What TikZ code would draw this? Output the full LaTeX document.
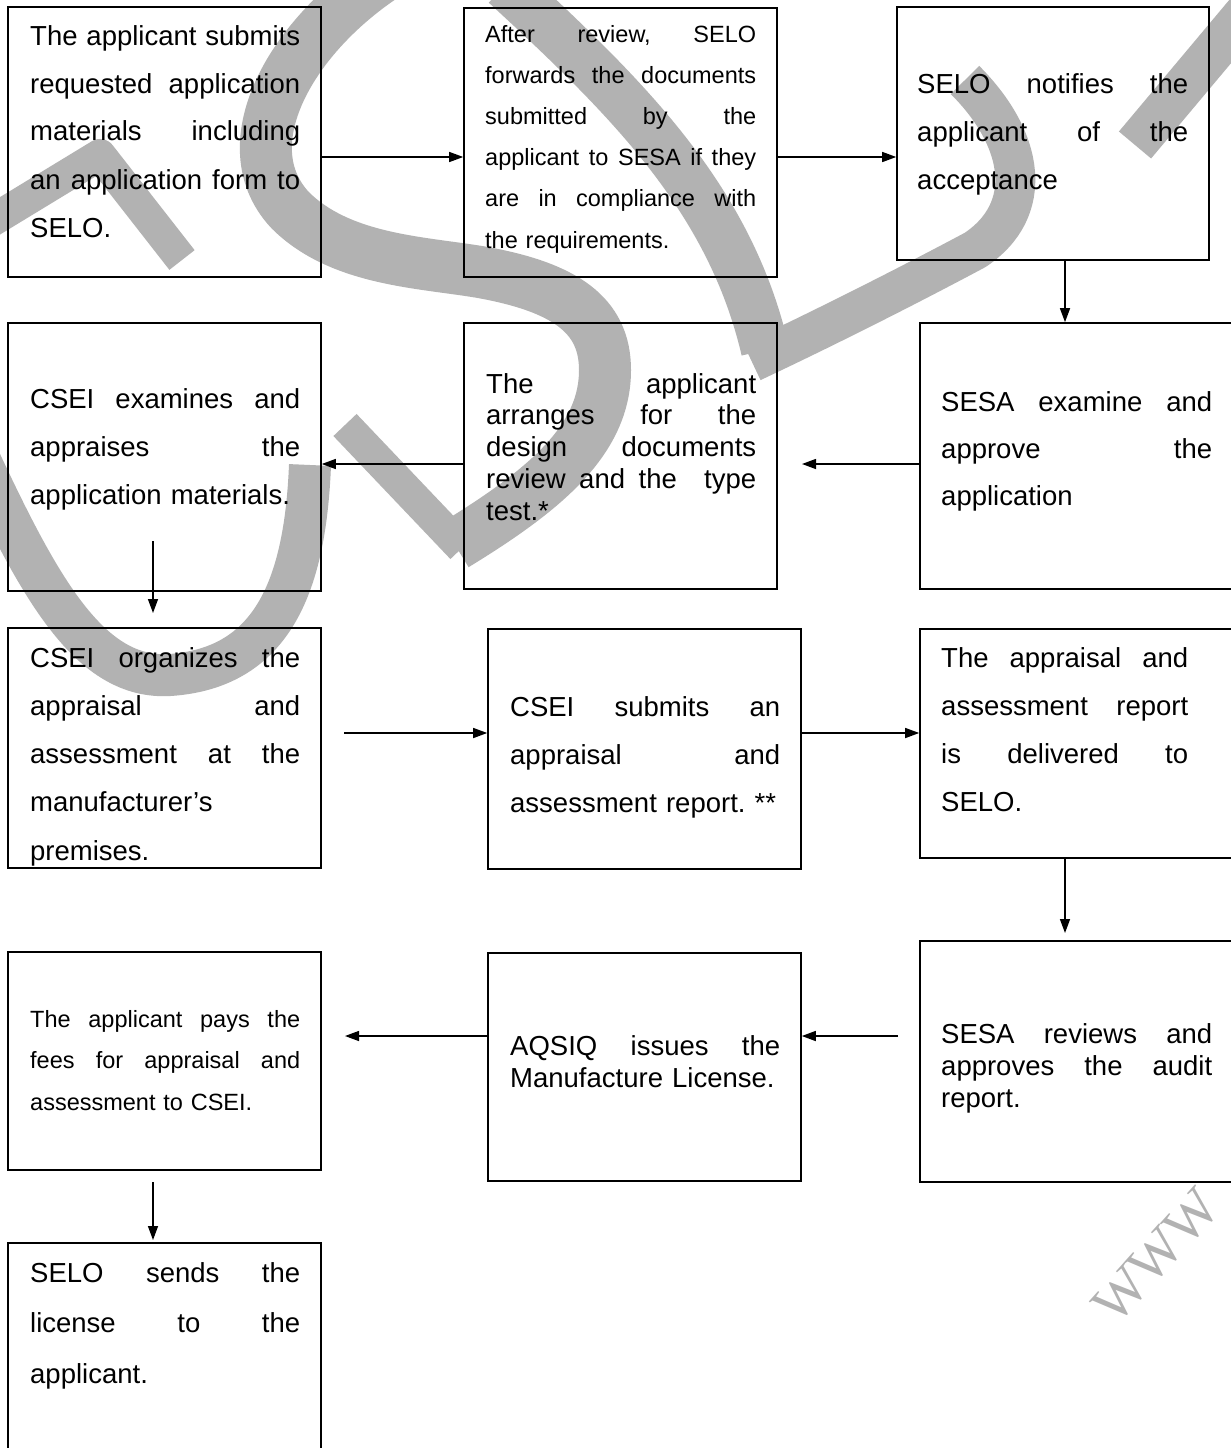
\documentclass[tikz,border=0pt]{standalone}
\usepackage{fontspec}
\setmainfont{Liberation Sans}
\newfontfamily\wwwfont{Liberation Serif}
\usetikzlibrary{arrows.meta,fit}
\definecolor{wmgray}{RGB}{178,178,178}
\def\jw{270pt}
\tikzset{
  box/.style={draw=black, line width=1.6pt, inner sep=0pt},
  txt/.style={anchor=base west, inner sep=0pt, align=left, text width=320pt},
  jwidth/.style={execute at begin node={\def\jw{#1}}},
  arr/.style={line width=1.4pt, -{Triangle[length=14pt,width=10pt]}},
  wm/.style={draw=wmgray, line cap=butt, line join=round},
}
\newcommand{\J}[1]{\leavevmode\hbox to \jw{\frenchspacing\spaceskip=\fontdimen2\font plus 1fil\relax #1}}
\begin{document}
\frenchspacing
\begin{tikzpicture}[x=1pt,y=-1pt]
\useasboundingbox (0,0) rectangle (1231,1448);
\fill[white] (0,0) rectangle (1231,1448);
% watermark
\draw[wm, line width=52pt] (410,-40) .. controls (300,20) and (225,140) .. (290,210)
  .. controls (340,260) and (420,262) .. (480,272)
  .. controls (565,287) and (605,315) .. (605,370)
  .. controls (605,440) and (545,490) .. (455,545);
\draw[wm, line width=32pt] (345,425) -- (462,548);
\draw[wm, line width=32pt] (-20,228) -- (100,155) -- (182,260);
\draw[wm, line width=42pt] (-25,450) .. controls (40,590) and (90,680) .. (170,675)
  .. controls (270,668) and (305,590) .. (310,465);
\draw[wm, line width=42pt] (1265,-10) -- (1135,145);
\draw[wm, line width=40pt] (965,80) .. controls (1025,140) and (1035,210) .. (975,250)
  .. controls (900,290) and (820,330) .. (752,362);
\draw[wm, line width=48pt] (505,-15) .. controls (630,100) and (730,200) .. (765,350);
\node[font=\wwwfont\fontsize{56}{56}\selectfont, text=wmgray, rotate=48, inner sep=0pt] (www) at (1156,1256) {WWW};
% boxes
\node[box, fit={(8,7) (321,277)}] (b1) {};
\node[box, fit={(464,8) (777,277)}] (b2) {};
\node[box, fit={(897,7) (1209,260)}] (b3) {};
\node[box, fit={(8,323) (321,591)}] (b4) {};
\node[box, fit={(464,323) (777,589)}] (b5) {};
\node[box, fit={(920,323) (1236,589)}] (b6) {};
\node[box, fit={(8,628) (321,868)}] (b7) {};
\node[box, fit={(488,629) (801,869)}] (b8) {};
\node[box, fit={(920,629) (1236,858)}] (b9) {};
\node[box, fit={(8,952) (321,1170)}] (b10) {};
\node[box, fit={(488,953) (801,1181)}] (b11) {};
\node[box, fit={(920,941) (1236,1182)}] (b12) {};
\node[box, fit={(8,1243) (321,1453)}] (b13) {};
% texts
\node[txt, font=\fontsize{27.5}{48}\selectfont] (t1) at (30,45)
 {\J{The applicant submits}\\ \J{requested application}\\ \J{materials including}\\ \J{an application form to}\\ SELO.};
\node[txt, jwidth=271pt, font=\fontsize{23.5}{41.2}\selectfont] (t2) at (485,42)
 {\J{After review, SELO}\\ \J{forwards the documents}\\ \J{submitted by the}\\ \J{applicant to SESA if they}\\ \J{are in compliance with}\\ the requirements.};
\node[txt, jwidth=271pt, font=\fontsize{27.5}{48}\selectfont] (t3) at (917,93)
 {\J{SELO notifies the}\\ \J{applicant of the}\\ acceptance};
\node[txt, font=\fontsize{27.5}{48}\selectfont] (t4) at (30,408)
 {\J{CSEI examines and}\\ \J{appraises the}\\ application materials.};
\node[txt, font=\fontsize{27.5}{31.75}\selectfont] (t5) at (486,393)
 {\J{The applicant}\\ \J{arranges for the}\\ \J{design documents}\\ \J{review and the\ \ type}\\ test.*};
\node[txt, jwidth=271pt, font=\fontsize{27.5}{47}\selectfont] (t6) at (941,411)
 {\J{SESA examine and}\\ \J{approve the}\\ application};
\begin{scope}
\clip (8,628) rectangle (321,868);
\node[txt, font=\fontsize{27.5}{48.25}\selectfont] (t7) at (30,667)
 {\J{CSEI organizes the}\\ \J{appraisal and}\\ \J{assessment at the}\\ manufacturer’s\\ premises.};
\end{scope}
\node[txt, font=\fontsize{27.5}{48}\selectfont] (t8) at (510,716)
 {\J{CSEI submits an}\\ \J{appraisal and}\\ assessment report. **};
\node[txt, jwidth=247pt, font=\fontsize{27.5}{48.3}\selectfont] (t9) at (941,667)
 {\J{The appraisal and}\\ \J{assessment report}\\ \J{is delivered to}\\ SELO.};
\node[txt, font=\fontsize{23.5}{41.5}\selectfont] (t10) at (30,1027)
 {\J{The applicant pays the}\\ \J{fees for appraisal and}\\ assessment to CSEI.};
\node[txt, font=\fontsize{27.5}{32}\selectfont] (t11) at (510,1055)
 {\J{AQSIQ issues the}\\ Manufacture License.};
\node[txt, jwidth=271pt, font=\fontsize{27.5}{32}\selectfont] (t12) at (941,1043)
 {\J{SESA reviews and}\\ \J{approves the audit}\\ report.};
\node[txt, font=\fontsize{27.5}{50.5}\selectfont] (t13) at (30,1282)
 {\J{SELO sends the}\\ \J{license to the}\\ applicant.};
% connector coordinates
\coordinate (r1) at (0,157);
\coordinate (r2) at (0,464);
\coordinate (r3) at (0,733);
\coordinate (r4) at (0,1036);
\coordinate (cR) at (1065,0);
\coordinate (e4) at (802,464);
\coordinate (s6) at (153,541);
\coordinate (e6) at (153,613);
\coordinate (s7) at (344,733);
\coordinate (e9) at (1065,933);
\coordinate (s10) at (898,1036);
\coordinate (e11) at (345,1036);
\coordinate (s12) at (153,1182);
\coordinate (e12) at (153,1240);
% connectors
\draw[arr] (b1.east |- r1) -- (b2.west |- r1);
\draw[arr] (b2.east |- r1) -- (b3.west |- r1);
\draw[arr] (cR |- b3.south) -- (cR |- b6.north);
\draw[arr] (b6.west |- r2) -- (e4);
\draw[arr] (b5.west |- r2) -- (b4.east |- r2);
\draw[arr] (s6) -- (e6);
\draw[arr] (s7) -- (b8.west |- r3);
\draw[arr] (b8.east |- r3) -- (b9.west |- r3);
\draw[arr] (cR |- b9.south) -- (e9);
\draw[arr] (s10) -- (b11.east |- r4);
\draw[arr] (b11.west |- r4) -- (e11);
\draw[arr] (s12) -- (e12);
\end{tikzpicture}
\end{document}
